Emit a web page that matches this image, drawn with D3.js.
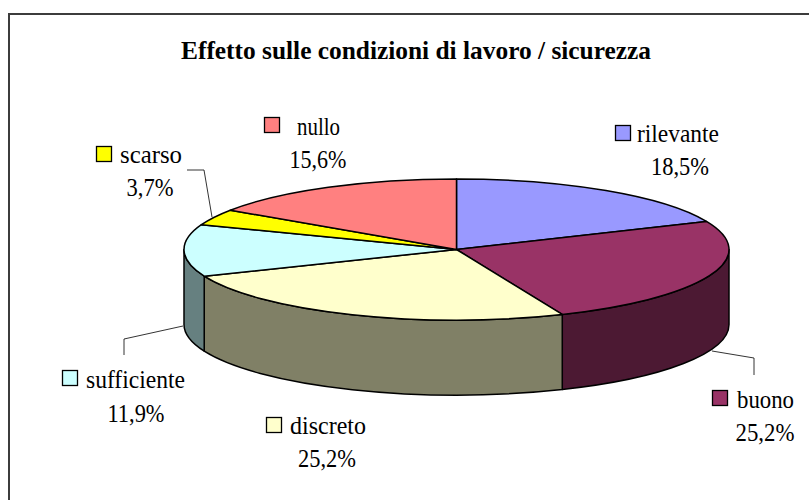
<!DOCTYPE html>
<html>
<head>
<meta charset="utf-8">
<script src="https://cdn.jsdelivr.net/npm/d3@7/dist/d3.min.js"></script>
<style>
  html, body { margin: 0; background: #fff; }
  svg { display: block; }
  text { font-family: "Liberation Serif", serif; fill: #000; }
</style>
</head>
<body>
<svg id="chart" width="809" height="500"></svg>
<script>
var categories = ["rilevante", "buono", "discreto", "sufficiente", "scarso", "nullo"];
var values = [18.5, 25.2, 25.2, 11.9, 3.7, 15.6];
var valueLabels = ["18,5%", "25,2%", "25,2%", "11,9%", "3,7%", "15,6%"];
var topColors = ["#9999ff", "#993366", "#ffffcc", "#ccffff", "#ffff00", "#ff8080"];
var sideColors = ["#4c4c80", "#4c1933", "#808066", "#668080", "#808000", "#804040"];

var svg = d3.select("#chart");
var cx = 456.5, cy = 249.5, rx = 272.5, ry = 70.5, depth = 75;

// the frame is cut off by the picture on the right and at the bottom
svg.append("path")
    .attr("d", "M9,500V14H809")
    .attr("fill", "none").attr("stroke", "#3c3c3c").attr("stroke-width", 2);

svg.append("text")
    .attr("x", 181).attr("y", 59)
    .attr("font-size", 26).attr("font-weight", "bold")
    .attr("textLength", 470).attr("lengthAdjust", "spacingAndGlyphs")
    .text("Effetto sulle condizioni di lavoro / sicurezza");

var pie = d3.pie().sort(null);
var slices = pie(values);

function px(a) { return cx + rx * Math.sin(a); }
function py(a) { return cy - ry * Math.cos(a); }

// front wall only shows between 3 and 9 o'clock
var frontStart = Math.PI / 2, frontEnd = Math.PI * 1.5;

function wallPath(d) {
  var a0 = Math.max(d.startAngle, frontStart), a1 = Math.min(d.endAngle, frontEnd);
  if (a1 <= a0) return null;
  return "M" + px(a0) + "," + py(a0) +
    "A" + rx + "," + ry + " 0 0 1 " + px(a1) + "," + py(a1) +
    "L" + px(a1) + "," + (py(a1) + depth) +
    "A" + rx + "," + ry + " 0 0 0 " + px(a0) + "," + (py(a0) + depth) + "Z";
}

svg.append("g").selectAll("path")
    .data(slices.filter(function(d) { return wallPath(d); }))
    .enter().append("path")
    .attr("d", wallPath)
    .attr("fill", function(d) { return sideColors[d.index]; })
    .attr("stroke", "#000").attr("stroke-width", 1.5)
    .attr("stroke-linejoin", "round");

var arc = d3.arc().innerRadius(0).outerRadius(rx);

svg.append("g")
    .attr("transform", "translate(" + cx + "," + cy + ") scale(1," + (ry / rx) + ")")
    .selectAll("path")
    .data(slices)
    .enter().append("path")
    .attr("d", arc)
    .attr("fill", function(d) { return topColors[d.index]; })
    .attr("stroke", "#000").attr("stroke-width", 1.5)
    .attr("stroke-linejoin", "round")
    .attr("vector-effect", "non-scaling-stroke");

// leader lines
var leaderLines = [
  [[187, 170], [204, 170], [212, 217]],
  [[124, 355], [124, 339], [183, 326]],
  [[712, 351], [754, 358], [754, 375]]
];
svg.append("g").selectAll("path")
    .data(leaderLines)
    .enter().append("path")
    .attr("d", d3.line())
    .attr("fill", "none").attr("stroke", "#000").attr("stroke-width", 0.8);

// swatch x,y, name start and width, value centre and width
var labelPos = [
  { sx: 615, sy: 125, nx: 637, ny: 142, nw: 82, vx: 680, vy: 175, vw: 58 },
  { sx: 712, sy: 390, nx: 737, ny: 408, nw: 57, vx: 765, vy: 441, vw: 59 },
  { sx: 266, sy: 417, nx: 290, ny: 434, nw: 76, vx: 327, vy: 467, vw: 58 },
  { sx: 62, sy: 370, nx: 86, ny: 388, nw: 99, vx: 136, vy: 422, vw: 57 },
  { sx: 96, sy: 146, nx: 120, ny: 163, nw: 62, vx: 150, vy: 196, vw: 47 },
  { sx: 264, sy: 117, nx: 297, ny: 135, nw: 43, vx: 318, vy: 168, vw: 57 }
];

var labels = svg.append("g").selectAll("g")
    .data(categories)
    .enter().append("g");

labels.append("rect")
    .attr("x", function(d, i) { return labelPos[i].sx + 0.5; })
    .attr("y", function(d, i) { return labelPos[i].sy + 0.5; })
    .attr("width", 15).attr("height", 15)
    .attr("fill", function(d, i) { return topColors[i]; })
    .attr("stroke", "#000").attr("stroke-width", 1.3);

labels.append("text")
    .attr("x", function(d, i) { return labelPos[i].nx; })
    .attr("y", function(d, i) { return labelPos[i].ny; })
    .attr("font-size", 24.5)
    .attr("textLength", function(d, i) { return labelPos[i].nw; })
    .attr("lengthAdjust", "spacingAndGlyphs")
    .text(function(d) { return d; });

labels.append("text")
    .attr("x", function(d, i) { return labelPos[i].vx; })
    .attr("y", function(d, i) { return labelPos[i].vy; })
    .attr("text-anchor", "middle")
    .attr("font-size", 24.5)
    .attr("textLength", function(d, i) { return labelPos[i].vw; })
    .attr("lengthAdjust", "spacingAndGlyphs")
    .text(function(d, i) { return valueLabels[i]; });
</script>
</body>
</html>
